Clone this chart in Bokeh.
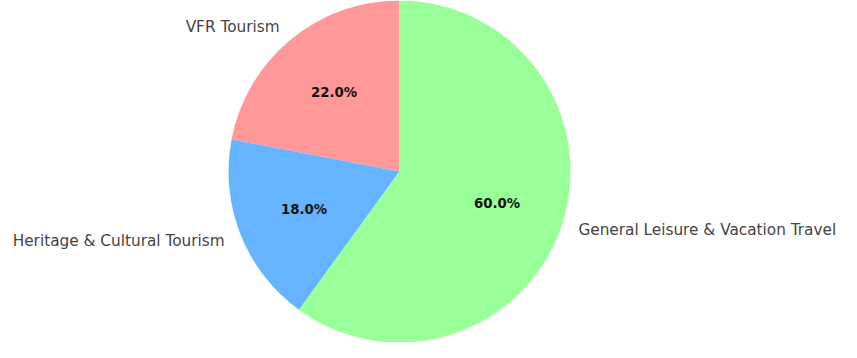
import math
from bokeh.plotting import figure
from bokeh.models import ColumnDataSource, Range1d
from bokeh.core.properties import value
from bokeh.embed import file_html
from bokeh.resources import INLINE

categories = ["VFR Tourism", "Heritage & Cultural Tourism", "General Leisure & Vacation Travel"]
shares = [22.0, 18.0, 60.0]
colors = ["#ff9999", "#66b3ff", "#99ff99"]

W, H = 841, 342
cx, cy, r = 399.0, 171.0, 171.0

total = sum(shares)
starts, ends, lx, ly, la, px, py, pct = [], [], [], [], [], [], [], []
a = 90.0
for s in shares:
    span = 360.0 * s / total
    st, en = a, a + span
    starts.append(math.radians(st))
    ends.append(math.radians(en))
    mid = math.radians((st + en) / 2)
    lx.append(cx + 1.1 * r * math.cos(mid))
    ly.append(cy + 1.1 * r * math.sin(mid))
    la.append("right" if math.cos(mid) < 0 else "left")
    px.append(cx + 0.6 * r * math.cos(mid))
    py.append(cy + 0.6 * r * math.sin(mid))
    pct.append(f"{s:.1f}%")
    a = en

src = ColumnDataSource(dict(start=starts, end=ends, color=colors, cat=categories,
                            lx=lx, ly=ly, la=la, px=px, py=py, pct=pct))

p = figure(width=W, height=H, output_backend="svg", toolbar_location=None,
           x_range=Range1d(0, W), y_range=Range1d(0, H), min_border=0)
p.axis.visible = False
p.grid.visible = False
p.outline_line_color = None
p.background_fill_color = "white"

p.wedge(x=cx, y=cy, radius=r, start_angle="start", end_angle="end",
        fill_color="color", line_color=None, source=src)

p.text(x="lx", y="ly", text="cat", text_align="la", text_baseline="middle",
       text_font=value("DejaVu Sans"), text_font_size="15.3px", text_color="#444444",
       source=src)
p.text(x="px", y="py", text="pct", text_align="center", text_baseline="middle",
       text_font=value("DejaVu Sans"), text_font_size="13.3px", text_font_style="bold",
       text_color="#111111", source=src)

open("out.html", "w").write(file_html(p, INLINE))
